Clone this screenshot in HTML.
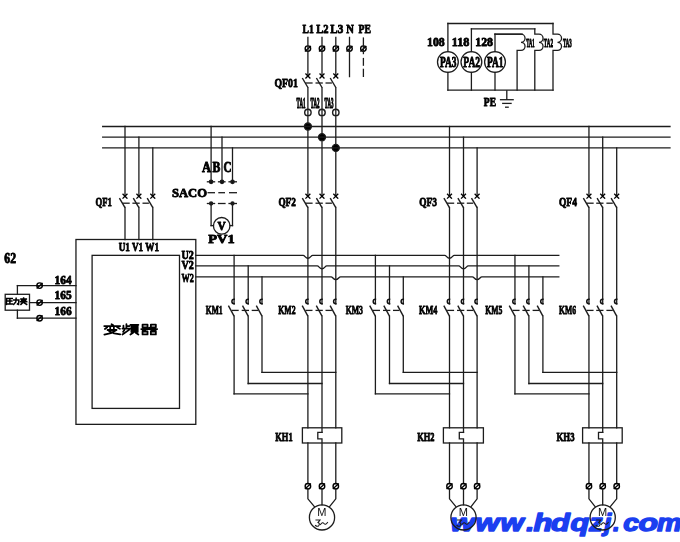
<!DOCTYPE html>
<html><head><meta charset="utf-8"><style>
html,body{margin:0;padding:0;background:#fff;width:680px;height:542px;overflow:hidden}
svg{display:block}
</style></head><body>
<svg width="680" height="542" viewBox="0 0 680 542">
<rect width="680" height="542" fill="#fff"/>
<g font-family="Liberation Sans" font-weight="bold" font-style="italic" font-size="24.0" fill="#1b3ff0" stroke="#1b3ff0" stroke-width="1.4" stroke-linejoin="round"><text transform="translate(450.39,531.2) scale(1.28,1)" x="0" y="0">w</text><text transform="translate(475.49,531.2) scale(1.28,1)" x="0" y="0">w</text><text transform="translate(500.41,531.2) scale(1.24,1)" x="0" y="0">w</text><text transform="translate(526.21,531.2) scale(1.2,1)" x="0" y="0">.</text><text transform="translate(533.50,531.2) scale(1.28,1)" x="0" y="0">h</text><text transform="translate(550.92,531.2) scale(1.28,1)" x="0" y="0">d</text><text transform="translate(570.45,531.2) scale(1.28,1)" x="0" y="0">q</text><text transform="translate(588.94,531.2) scale(1.12,1)" x="0" y="0">z</text><text transform="translate(604.34,531.2) scale(1.05,1)" x="0" y="0">j</text><text transform="translate(613.12,531.2) scale(1.0,1)" x="0" y="0">.</text><text transform="translate(623.30,531.2) scale(1.18,1)" x="0" y="0">c</text><text transform="translate(638.47,531.2) scale(1.33,1)" x="0" y="0">o</text><text transform="translate(657.07,531.2) scale(1.15,1)" x="0" y="0">m</text></g>
<g stroke="#1c1c1c" stroke-width="1.3" fill="none" stroke-linecap="square">
<circle cx="307.90" cy="48.60" r="2.75" stroke="#000" stroke-width="1.4"/>
<line x1="304.90" y1="51.40" x2="310.90" y2="45.90" stroke="#000" stroke-width="1.3" stroke-linecap="butt"/>
<circle cx="322.00" cy="48.60" r="2.75" stroke="#000" stroke-width="1.4"/>
<line x1="319.00" y1="51.40" x2="325.00" y2="45.90" stroke="#000" stroke-width="1.3" stroke-linecap="butt"/>
<circle cx="335.80" cy="48.60" r="2.75" stroke="#000" stroke-width="1.4"/>
<line x1="332.80" y1="51.40" x2="338.80" y2="45.90" stroke="#000" stroke-width="1.3" stroke-linecap="butt"/>
<circle cx="349.50" cy="48.60" r="2.75" stroke="#000" stroke-width="1.4"/>
<line x1="346.50" y1="51.40" x2="352.50" y2="45.90" stroke="#000" stroke-width="1.3" stroke-linecap="butt"/>
<circle cx="363.40" cy="48.60" r="2.75" stroke="#000" stroke-width="1.4"/>
<line x1="360.40" y1="51.40" x2="366.40" y2="45.90" stroke="#000" stroke-width="1.3" stroke-linecap="butt"/>
<line x1="307.90" y1="37.40" x2="307.90" y2="75.90"/>
<line x1="322.00" y1="37.40" x2="322.00" y2="75.90"/>
<line x1="335.80" y1="37.40" x2="335.80" y2="75.90"/>
<line x1="349.50" y1="37.40" x2="349.50" y2="76.60"/>
<line x1="363.40" y1="37.40" x2="363.40" y2="54.20" stroke-linecap="butt"/>
<line x1="363.40" y1="57.90" x2="363.40" y2="65.80" stroke-linecap="butt"/>
<line x1="363.40" y1="68.70" x2="363.40" y2="77.00" stroke-linecap="butt"/>
<path d="M305.90,74.00 L309.90,78.00 M305.90,78.00 L309.90,74.00" stroke="#000" stroke-width="1.3"/>
<line x1="302.30" y1="78.00" x2="307.90" y2="87.50" stroke-linecap="butt" stroke-width="1.4"/>
<path d="M320.00,74.00 L324.00,78.00 M320.00,78.00 L324.00,74.00" stroke="#000" stroke-width="1.3"/>
<line x1="316.40" y1="78.00" x2="322.00" y2="87.50" stroke-linecap="butt" stroke-width="1.4"/>
<path d="M333.80,74.00 L337.80,78.00 M333.80,78.00 L337.80,74.00" stroke="#000" stroke-width="1.3"/>
<line x1="330.20" y1="78.00" x2="335.80" y2="87.50" stroke-linecap="butt" stroke-width="1.4"/>
<line x1="305.30" y1="83.00" x2="312.60" y2="83.00" stroke-linecap="butt"/>
<line x1="315.50" y1="83.00" x2="322.80" y2="83.00" stroke-linecap="butt"/>
<line x1="325.50" y1="83.00" x2="331.90" y2="83.00" stroke-linecap="butt"/>
<line x1="307.90" y1="87.70" x2="307.90" y2="194.50"/>
<circle cx="307.90" cy="112.40" r="3.20" fill="none" stroke-width="1.4"/>
<circle cx="307.90" cy="126.50" r="3.50" fill="#000"/>
<line x1="322.00" y1="87.70" x2="322.00" y2="194.50"/>
<circle cx="322.00" cy="112.40" r="3.20" fill="none" stroke-width="1.4"/>
<circle cx="322.00" cy="137.20" r="3.50" fill="#000"/>
<line x1="335.80" y1="87.70" x2="335.80" y2="194.50"/>
<circle cx="335.80" cy="112.40" r="3.20" fill="none" stroke-width="1.4"/>
<circle cx="335.80" cy="147.90" r="3.50" fill="#000"/>
<line x1="102.70" y1="126.50" x2="670.00" y2="126.50"/>
<line x1="102.70" y1="137.20" x2="670.00" y2="137.20"/>
<line x1="102.70" y1="147.90" x2="670.00" y2="147.90"/>
<line x1="125.00" y1="126.50" x2="125.00" y2="194.50"/>
<line x1="125.00" y1="207.50" x2="125.00" y2="239.50"/>
<line x1="138.90" y1="137.20" x2="138.90" y2="194.50"/>
<line x1="138.90" y1="207.50" x2="138.90" y2="239.50"/>
<line x1="152.80" y1="147.90" x2="152.80" y2="194.50"/>
<line x1="152.80" y1="207.50" x2="152.80" y2="239.50"/>
<path d="M123.00,194.20 L127.00,198.20 M123.00,198.20 L127.00,194.20" stroke="#000" stroke-width="1.3"/>
<line x1="119.40" y1="198.20" x2="125.00" y2="207.70" stroke-linecap="butt" stroke-width="1.4"/>
<path d="M136.90,194.20 L140.90,198.20 M136.90,198.20 L140.90,194.20" stroke="#000" stroke-width="1.3"/>
<line x1="133.30" y1="198.20" x2="138.90" y2="207.70" stroke-linecap="butt" stroke-width="1.4"/>
<path d="M150.80,194.20 L154.80,198.20 M150.80,198.20 L154.80,194.20" stroke="#000" stroke-width="1.3"/>
<line x1="147.20" y1="198.20" x2="152.80" y2="207.70" stroke-linecap="butt" stroke-width="1.4"/>
<line x1="122.40" y1="203.20" x2="129.70" y2="203.20" stroke-linecap="butt"/>
<line x1="132.40" y1="203.20" x2="139.70" y2="203.20" stroke-linecap="butt"/>
<line x1="142.50" y1="203.20" x2="148.90" y2="203.20" stroke-linecap="butt"/>
<path d="M305.90,194.20 L309.90,198.20 M305.90,198.20 L309.90,194.20" stroke="#000" stroke-width="1.3"/>
<line x1="302.30" y1="198.20" x2="307.90" y2="207.70" stroke-linecap="butt" stroke-width="1.4"/>
<path d="M320.00,194.20 L324.00,198.20 M320.00,198.20 L324.00,194.20" stroke="#000" stroke-width="1.3"/>
<line x1="316.40" y1="198.20" x2="322.00" y2="207.70" stroke-linecap="butt" stroke-width="1.4"/>
<path d="M333.80,194.20 L337.80,198.20 M333.80,198.20 L337.80,194.20" stroke="#000" stroke-width="1.3"/>
<line x1="330.20" y1="198.20" x2="335.80" y2="207.70" stroke-linecap="butt" stroke-width="1.4"/>
<line x1="305.30" y1="203.20" x2="312.60" y2="203.20" stroke-linecap="butt"/>
<line x1="315.50" y1="203.20" x2="322.80" y2="203.20" stroke-linecap="butt"/>
<line x1="325.50" y1="203.20" x2="331.90" y2="203.20" stroke-linecap="butt"/>
<line x1="449.50" y1="126.50" x2="449.50" y2="194.50"/>
<line x1="463.50" y1="137.20" x2="463.50" y2="194.50"/>
<line x1="477.10" y1="147.90" x2="477.10" y2="194.50"/>
<path d="M447.50,194.20 L451.50,198.20 M447.50,198.20 L451.50,194.20" stroke="#000" stroke-width="1.3"/>
<line x1="443.90" y1="198.20" x2="449.50" y2="207.70" stroke-linecap="butt" stroke-width="1.4"/>
<path d="M461.50,194.20 L465.50,198.20 M461.50,198.20 L465.50,194.20" stroke="#000" stroke-width="1.3"/>
<line x1="457.90" y1="198.20" x2="463.50" y2="207.70" stroke-linecap="butt" stroke-width="1.4"/>
<path d="M475.10,194.20 L479.10,198.20 M475.10,198.20 L479.10,194.20" stroke="#000" stroke-width="1.3"/>
<line x1="471.50" y1="198.20" x2="477.10" y2="207.70" stroke-linecap="butt" stroke-width="1.4"/>
<line x1="446.90" y1="203.20" x2="454.20" y2="203.20" stroke-linecap="butt"/>
<line x1="457.00" y1="203.20" x2="464.30" y2="203.20" stroke-linecap="butt"/>
<line x1="466.80" y1="203.20" x2="473.20" y2="203.20" stroke-linecap="butt"/>
<line x1="588.95" y1="126.50" x2="588.95" y2="194.50"/>
<line x1="602.70" y1="137.20" x2="602.70" y2="194.50"/>
<line x1="616.70" y1="147.90" x2="616.70" y2="194.50"/>
<path d="M586.95,194.20 L590.95,198.20 M586.95,198.20 L590.95,194.20" stroke="#000" stroke-width="1.3"/>
<line x1="583.35" y1="198.20" x2="588.95" y2="207.70" stroke-linecap="butt" stroke-width="1.4"/>
<path d="M600.70,194.20 L604.70,198.20 M600.70,198.20 L604.70,194.20" stroke="#000" stroke-width="1.3"/>
<line x1="597.10" y1="198.20" x2="602.70" y2="207.70" stroke-linecap="butt" stroke-width="1.4"/>
<path d="M614.70,194.20 L618.70,198.20 M614.70,198.20 L618.70,194.20" stroke="#000" stroke-width="1.3"/>
<line x1="611.10" y1="198.20" x2="616.70" y2="207.70" stroke-linecap="butt" stroke-width="1.4"/>
<line x1="586.35" y1="203.20" x2="593.65" y2="203.20" stroke-linecap="butt"/>
<line x1="596.20" y1="203.20" x2="603.50" y2="203.20" stroke-linecap="butt"/>
<line x1="606.40" y1="203.20" x2="612.80" y2="203.20" stroke-linecap="butt"/>
<rect x="75.96" y="239.50" width="119.84" height="184.85" fill="none"/>
<rect x="92.10" y="255.35" width="87.40" height="153.05" fill="none"/>
<path d="M195.80,255.35 L303.10,255.35 C304.90,255.35 305.30,258.25 307.90,258.25 C310.50,258.25 310.90,255.35 312.70,255.35 L444.70,255.35 C446.50,255.35 446.90,258.25 449.50,258.25 C452.10,258.25 452.50,255.35 454.30,255.35 L558.80,255.35"/>
<path d="M195.80,265.90 L317.20,265.90 C319.00,265.90 319.40,268.80 322.00,268.80 C324.60,268.80 325.00,265.90 326.80,265.90 L458.70,265.90 C460.50,265.90 460.90,268.80 463.50,268.80 C466.10,268.80 466.50,265.90 468.30,265.90 L558.80,265.90"/>
<path d="M195.80,276.80 L331.00,276.80 C332.80,276.80 333.20,279.70 335.80,279.70 C338.40,279.70 338.80,276.80 340.60,276.80 L472.30,276.80 C474.10,276.80 474.50,279.70 477.10,279.70 C479.70,279.70 480.10,276.80 481.90,276.80 L558.80,276.80"/>
<line x1="234.10" y1="255.35" x2="234.10" y2="303.80"/>
<line x1="234.10" y1="316.20" x2="234.10" y2="393.80"/>
<line x1="234.10" y1="393.80" x2="307.90" y2="393.80"/>
<line x1="248.20" y1="265.90" x2="248.20" y2="303.80"/>
<line x1="248.20" y1="316.20" x2="248.20" y2="383.50"/>
<line x1="248.20" y1="383.50" x2="322.00" y2="383.50"/>
<line x1="262.00" y1="276.80" x2="262.00" y2="303.80"/>
<line x1="262.00" y1="316.20" x2="262.00" y2="372.40"/>
<line x1="262.00" y1="372.40" x2="335.80" y2="372.40"/>
<path d="M234.10,299.30 A2.2,2.2 0 0 0 234.10,303.70" stroke="#111" stroke-width="1.5"/>
<line x1="228.40" y1="305.60" x2="234.10" y2="316.20" stroke-linecap="butt" stroke-width="1.4"/>
<path d="M248.20,299.30 A2.2,2.2 0 0 0 248.20,303.70" stroke="#111" stroke-width="1.5"/>
<line x1="242.50" y1="305.60" x2="248.20" y2="316.20" stroke-linecap="butt" stroke-width="1.4"/>
<path d="M262.00,299.30 A2.2,2.2 0 0 0 262.00,303.70" stroke="#111" stroke-width="1.5"/>
<line x1="256.30" y1="305.60" x2="262.00" y2="316.20" stroke-linecap="butt" stroke-width="1.4"/>
<line x1="231.70" y1="310.40" x2="238.70" y2="310.40" stroke-linecap="butt"/>
<line x1="241.70" y1="310.40" x2="249.00" y2="310.40" stroke-linecap="butt"/>
<line x1="251.70" y1="310.40" x2="258.10" y2="310.40" stroke-linecap="butt"/>
<line x1="307.90" y1="207.50" x2="307.90" y2="303.80"/>
<line x1="322.00" y1="207.50" x2="322.00" y2="303.80"/>
<line x1="335.80" y1="207.50" x2="335.80" y2="303.80"/>
<path d="M307.90,299.30 A2.2,2.2 0 0 0 307.90,303.70" stroke="#111" stroke-width="1.5"/>
<line x1="302.20" y1="305.60" x2="307.90" y2="316.20" stroke-linecap="butt" stroke-width="1.4"/>
<path d="M322.00,299.30 A2.2,2.2 0 0 0 322.00,303.70" stroke="#111" stroke-width="1.5"/>
<line x1="316.30" y1="305.60" x2="322.00" y2="316.20" stroke-linecap="butt" stroke-width="1.4"/>
<path d="M335.80,299.30 A2.2,2.2 0 0 0 335.80,303.70" stroke="#111" stroke-width="1.5"/>
<line x1="330.10" y1="305.60" x2="335.80" y2="316.20" stroke-linecap="butt" stroke-width="1.4"/>
<line x1="305.50" y1="310.40" x2="312.50" y2="310.40" stroke-linecap="butt"/>
<line x1="315.50" y1="310.40" x2="322.80" y2="310.40" stroke-linecap="butt"/>
<line x1="325.50" y1="310.40" x2="331.90" y2="310.40" stroke-linecap="butt"/>
<line x1="307.90" y1="316.20" x2="307.90" y2="427.80"/>
<line x1="307.90" y1="443.00" x2="307.90" y2="483.60"/>
<line x1="322.00" y1="316.20" x2="322.00" y2="432.40"/>
<line x1="335.80" y1="316.20" x2="335.80" y2="427.80"/>
<line x1="335.80" y1="443.00" x2="335.80" y2="483.60"/>
<path d="M322.00,432.4 L317.80,432.4 L317.80,438.8 L322.00,438.8 L322.00,483.6"/>
<rect x="302.40" y="427.80" width="39.40" height="15.20" fill="none"/>
<circle cx="307.90" cy="486.20" r="2.75" stroke="#000" stroke-width="1.4"/>
<line x1="304.90" y1="489.00" x2="310.90" y2="483.50" stroke="#000" stroke-width="1.3" stroke-linecap="butt"/>
<circle cx="322.00" cy="486.20" r="2.75" stroke="#000" stroke-width="1.4"/>
<line x1="319.00" y1="489.00" x2="325.00" y2="483.50" stroke="#000" stroke-width="1.3" stroke-linecap="butt"/>
<circle cx="335.80" cy="486.20" r="2.75" stroke="#000" stroke-width="1.4"/>
<line x1="332.80" y1="489.00" x2="338.80" y2="483.50" stroke="#000" stroke-width="1.3" stroke-linecap="butt"/>
<circle cx="322.00" cy="517.40" r="12.60" fill="none" stroke-width="1.3"/>
<line x1="322.00" y1="488.80" x2="322.00" y2="504.80"/>
<path d="M307.90,488.8 L307.90,498.8 L314.40,506.6"/>
<path d="M335.80,488.8 L335.80,498.8 L329.60,506.6"/>
<path d="M316.00,520 L320.00,520 L318.00,522.6 Q320.50,523.5 318.50,526 Q317.00,526.8 315.50,525.5" stroke-width="1.1"/>
<path d="M320.50,524.5 Q322.50,521.5 324.00,523.5 Q325.50,525.5 327.50,522.5" stroke-width="1.1"/>
<line x1="375.40" y1="255.35" x2="375.40" y2="303.80"/>
<line x1="375.40" y1="316.20" x2="375.40" y2="393.80"/>
<line x1="375.40" y1="393.80" x2="449.50" y2="393.80"/>
<line x1="389.50" y1="265.90" x2="389.50" y2="303.80"/>
<line x1="389.50" y1="316.20" x2="389.50" y2="383.50"/>
<line x1="389.50" y1="383.50" x2="463.50" y2="383.50"/>
<line x1="403.30" y1="276.80" x2="403.30" y2="303.80"/>
<line x1="403.30" y1="316.20" x2="403.30" y2="372.40"/>
<line x1="403.30" y1="372.40" x2="477.10" y2="372.40"/>
<path d="M375.40,299.30 A2.2,2.2 0 0 0 375.40,303.70" stroke="#111" stroke-width="1.5"/>
<line x1="369.70" y1="305.60" x2="375.40" y2="316.20" stroke-linecap="butt" stroke-width="1.4"/>
<path d="M389.50,299.30 A2.2,2.2 0 0 0 389.50,303.70" stroke="#111" stroke-width="1.5"/>
<line x1="383.80" y1="305.60" x2="389.50" y2="316.20" stroke-linecap="butt" stroke-width="1.4"/>
<path d="M403.30,299.30 A2.2,2.2 0 0 0 403.30,303.70" stroke="#111" stroke-width="1.5"/>
<line x1="397.60" y1="305.60" x2="403.30" y2="316.20" stroke-linecap="butt" stroke-width="1.4"/>
<line x1="373.00" y1="310.40" x2="380.00" y2="310.40" stroke-linecap="butt"/>
<line x1="383.00" y1="310.40" x2="390.30" y2="310.40" stroke-linecap="butt"/>
<line x1="393.00" y1="310.40" x2="399.40" y2="310.40" stroke-linecap="butt"/>
<line x1="449.50" y1="207.50" x2="449.50" y2="303.80"/>
<line x1="463.50" y1="207.50" x2="463.50" y2="303.80"/>
<line x1="477.10" y1="207.50" x2="477.10" y2="303.80"/>
<path d="M449.50,299.30 A2.2,2.2 0 0 0 449.50,303.70" stroke="#111" stroke-width="1.5"/>
<line x1="443.80" y1="305.60" x2="449.50" y2="316.20" stroke-linecap="butt" stroke-width="1.4"/>
<path d="M463.50,299.30 A2.2,2.2 0 0 0 463.50,303.70" stroke="#111" stroke-width="1.5"/>
<line x1="457.80" y1="305.60" x2="463.50" y2="316.20" stroke-linecap="butt" stroke-width="1.4"/>
<path d="M477.10,299.30 A2.2,2.2 0 0 0 477.10,303.70" stroke="#111" stroke-width="1.5"/>
<line x1="471.40" y1="305.60" x2="477.10" y2="316.20" stroke-linecap="butt" stroke-width="1.4"/>
<line x1="447.10" y1="310.40" x2="454.10" y2="310.40" stroke-linecap="butt"/>
<line x1="457.00" y1="310.40" x2="464.30" y2="310.40" stroke-linecap="butt"/>
<line x1="466.80" y1="310.40" x2="473.20" y2="310.40" stroke-linecap="butt"/>
<line x1="449.50" y1="316.20" x2="449.50" y2="427.80"/>
<line x1="449.50" y1="443.00" x2="449.50" y2="483.60"/>
<line x1="463.50" y1="316.20" x2="463.50" y2="432.40"/>
<line x1="477.10" y1="316.20" x2="477.10" y2="427.80"/>
<line x1="477.10" y1="443.00" x2="477.10" y2="483.60"/>
<path d="M463.50,432.4 L459.30,432.4 L459.30,438.8 L463.50,438.8 L463.50,483.6"/>
<rect x="443.40" y="427.80" width="40.00" height="15.20" fill="none"/>
<circle cx="449.50" cy="486.20" r="2.75" stroke="#000" stroke-width="1.4"/>
<line x1="446.50" y1="489.00" x2="452.50" y2="483.50" stroke="#000" stroke-width="1.3" stroke-linecap="butt"/>
<circle cx="463.50" cy="486.20" r="2.75" stroke="#000" stroke-width="1.4"/>
<line x1="460.50" y1="489.00" x2="466.50" y2="483.50" stroke="#000" stroke-width="1.3" stroke-linecap="butt"/>
<circle cx="477.10" cy="486.20" r="2.75" stroke="#000" stroke-width="1.4"/>
<line x1="474.10" y1="489.00" x2="480.10" y2="483.50" stroke="#000" stroke-width="1.3" stroke-linecap="butt"/>
<circle cx="463.50" cy="517.40" r="12.60" fill="none" stroke-width="1.3"/>
<line x1="463.50" y1="488.80" x2="463.50" y2="504.80"/>
<path d="M449.50,488.8 L449.50,498.8 L455.90,506.6"/>
<path d="M477.10,488.8 L477.10,498.8 L471.10,506.6"/>
<path d="M457.50,520 L461.50,520 L459.50,522.6 Q462.00,523.5 460.00,526 Q458.50,526.8 457.00,525.5" stroke-width="1.1"/>
<path d="M462.00,524.5 Q464.00,521.5 465.50,523.5 Q467.00,525.5 469.00,522.5" stroke-width="1.1"/>
<line x1="514.95" y1="255.35" x2="514.95" y2="303.80"/>
<line x1="514.95" y1="316.20" x2="514.95" y2="393.80"/>
<line x1="514.95" y1="393.80" x2="588.95" y2="393.80"/>
<line x1="528.90" y1="265.90" x2="528.90" y2="303.80"/>
<line x1="528.90" y1="316.20" x2="528.90" y2="383.50"/>
<line x1="528.90" y1="383.50" x2="602.70" y2="383.50"/>
<line x1="542.90" y1="276.80" x2="542.90" y2="303.80"/>
<line x1="542.90" y1="316.20" x2="542.90" y2="372.40"/>
<line x1="542.90" y1="372.40" x2="616.70" y2="372.40"/>
<path d="M514.95,299.30 A2.2,2.2 0 0 0 514.95,303.70" stroke="#111" stroke-width="1.5"/>
<line x1="509.25" y1="305.60" x2="514.95" y2="316.20" stroke-linecap="butt" stroke-width="1.4"/>
<path d="M528.90,299.30 A2.2,2.2 0 0 0 528.90,303.70" stroke="#111" stroke-width="1.5"/>
<line x1="523.20" y1="305.60" x2="528.90" y2="316.20" stroke-linecap="butt" stroke-width="1.4"/>
<path d="M542.90,299.30 A2.2,2.2 0 0 0 542.90,303.70" stroke="#111" stroke-width="1.5"/>
<line x1="537.20" y1="305.60" x2="542.90" y2="316.20" stroke-linecap="butt" stroke-width="1.4"/>
<line x1="512.55" y1="310.40" x2="519.55" y2="310.40" stroke-linecap="butt"/>
<line x1="522.40" y1="310.40" x2="529.70" y2="310.40" stroke-linecap="butt"/>
<line x1="532.60" y1="310.40" x2="539.00" y2="310.40" stroke-linecap="butt"/>
<line x1="588.95" y1="207.50" x2="588.95" y2="303.80"/>
<line x1="602.70" y1="207.50" x2="602.70" y2="303.80"/>
<line x1="616.70" y1="207.50" x2="616.70" y2="303.80"/>
<path d="M588.95,299.30 A2.2,2.2 0 0 0 588.95,303.70" stroke="#111" stroke-width="1.5"/>
<line x1="583.25" y1="305.60" x2="588.95" y2="316.20" stroke-linecap="butt" stroke-width="1.4"/>
<path d="M602.70,299.30 A2.2,2.2 0 0 0 602.70,303.70" stroke="#111" stroke-width="1.5"/>
<line x1="597.00" y1="305.60" x2="602.70" y2="316.20" stroke-linecap="butt" stroke-width="1.4"/>
<path d="M616.70,299.30 A2.2,2.2 0 0 0 616.70,303.70" stroke="#111" stroke-width="1.5"/>
<line x1="611.00" y1="305.60" x2="616.70" y2="316.20" stroke-linecap="butt" stroke-width="1.4"/>
<line x1="586.55" y1="310.40" x2="593.55" y2="310.40" stroke-linecap="butt"/>
<line x1="596.20" y1="310.40" x2="603.50" y2="310.40" stroke-linecap="butt"/>
<line x1="606.40" y1="310.40" x2="612.80" y2="310.40" stroke-linecap="butt"/>
<line x1="588.95" y1="316.20" x2="588.95" y2="427.80"/>
<line x1="588.95" y1="443.00" x2="588.95" y2="483.60"/>
<line x1="602.70" y1="316.20" x2="602.70" y2="432.40"/>
<line x1="616.70" y1="316.20" x2="616.70" y2="427.80"/>
<line x1="616.70" y1="443.00" x2="616.70" y2="483.60"/>
<path d="M602.70,432.4 L598.50,432.4 L598.50,438.8 L602.70,438.8 L602.70,483.6"/>
<rect x="582.60" y="427.80" width="39.60" height="15.20" fill="none"/>
<circle cx="588.95" cy="486.20" r="2.75" stroke="#000" stroke-width="1.4"/>
<line x1="585.95" y1="489.00" x2="591.95" y2="483.50" stroke="#000" stroke-width="1.3" stroke-linecap="butt"/>
<circle cx="602.70" cy="486.20" r="2.75" stroke="#000" stroke-width="1.4"/>
<line x1="599.70" y1="489.00" x2="605.70" y2="483.50" stroke="#000" stroke-width="1.3" stroke-linecap="butt"/>
<circle cx="616.70" cy="486.20" r="2.75" stroke="#000" stroke-width="1.4"/>
<line x1="613.70" y1="489.00" x2="619.70" y2="483.50" stroke="#000" stroke-width="1.3" stroke-linecap="butt"/>
<circle cx="602.70" cy="517.40" r="12.60" fill="none" stroke-width="1.3"/>
<line x1="602.70" y1="488.80" x2="602.70" y2="504.80"/>
<path d="M588.95,488.8 L588.95,498.8 L595.10,506.6"/>
<path d="M616.70,488.8 L616.70,498.8 L610.30,506.6"/>
<path d="M596.70,520 L600.70,520 L598.70,522.6 Q601.20,523.5 599.20,526 Q597.70,526.8 596.20,525.5" stroke-width="1.1"/>
<path d="M601.20,524.5 Q603.20,521.5 604.70,523.5 Q606.20,525.5 608.20,522.5" stroke-width="1.1"/>
<line x1="17.40" y1="285.60" x2="75.96" y2="285.60"/>
<line x1="29.50" y1="302.60" x2="75.96" y2="302.60"/>
<line x1="17.40" y1="318.20" x2="75.96" y2="318.20"/>
<line x1="17.40" y1="285.60" x2="17.40" y2="294.30"/>
<line x1="17.40" y1="310.20" x2="17.40" y2="318.20"/>
<rect x="5.20" y="294.30" width="24.30" height="15.90" fill="none"/>
<circle cx="39.60" cy="285.60" r="2.75" stroke="#000" stroke-width="1.4"/>
<line x1="36.60" y1="288.40" x2="42.60" y2="282.90" stroke="#000" stroke-width="1.3" stroke-linecap="butt"/>
<circle cx="39.60" cy="302.60" r="2.75" stroke="#000" stroke-width="1.4"/>
<line x1="36.60" y1="305.40" x2="42.60" y2="299.90" stroke="#000" stroke-width="1.3" stroke-linecap="butt"/>
<circle cx="39.60" cy="318.20" r="2.75" stroke="#000" stroke-width="1.4"/>
<line x1="36.60" y1="321.00" x2="42.60" y2="315.50" stroke="#000" stroke-width="1.3" stroke-linecap="butt"/>
<line x1="211.10" y1="126.50" x2="211.10" y2="181.80"/>
<circle cx="211.10" cy="181.80" r="1.70" fill="#000"/>
<line x1="222.00" y1="137.20" x2="222.00" y2="181.80"/>
<circle cx="222.00" cy="181.80" r="1.70" fill="#000"/>
<line x1="232.50" y1="147.90" x2="232.50" y2="181.80"/>
<circle cx="232.50" cy="181.80" r="1.70" fill="#000"/>
<circle cx="211.10" cy="203.50" r="1.50" fill="#000"/>
<circle cx="232.50" cy="203.50" r="1.50" fill="#000"/>
<line x1="206.80" y1="181.80" x2="215.20" y2="181.80" stroke-linecap="butt"/>
<line x1="217.90" y1="181.80" x2="225.60" y2="181.80" stroke-linecap="butt"/>
<line x1="228.40" y1="181.80" x2="237.00" y2="181.80" stroke-linecap="butt"/>
<line x1="206.80" y1="203.50" x2="215.20" y2="203.50" stroke-linecap="butt"/>
<line x1="217.90" y1="203.50" x2="225.60" y2="203.50" stroke-linecap="butt"/>
<line x1="228.40" y1="203.50" x2="237.00" y2="203.50" stroke-linecap="butt"/>
<line x1="207.50" y1="192.70" x2="215.00" y2="192.70" stroke-linecap="butt"/>
<line x1="218.30" y1="192.70" x2="225.00" y2="192.70" stroke-linecap="butt"/>
<line x1="229.00" y1="192.70" x2="237.00" y2="192.70" stroke-linecap="butt"/>
<line x1="211.10" y1="203.50" x2="211.10" y2="225.60"/>
<line x1="211.10" y1="225.60" x2="213.50" y2="225.60"/>
<line x1="232.50" y1="203.50" x2="232.50" y2="225.60"/>
<line x1="232.50" y1="225.60" x2="230.10" y2="225.60"/>
<circle cx="221.70" cy="225.80" r="8.30" fill="none" stroke-width="1.3"/>
<line x1="447.90" y1="23.50" x2="553.00" y2="23.50"/>
<line x1="471.40" y1="28.90" x2="534.80" y2="28.90"/>
<line x1="495.00" y1="34.20" x2="522.10" y2="34.20"/>
<line x1="447.90" y1="90.20" x2="553.00" y2="90.20"/>
<line x1="447.90" y1="23.50" x2="447.90" y2="51.60"/>
<circle cx="447.90" cy="62.00" r="10.40" fill="none" stroke-width="1.3"/>
<line x1="447.90" y1="72.40" x2="447.90" y2="90.20"/>
<line x1="471.40" y1="28.90" x2="471.40" y2="51.60"/>
<circle cx="471.40" cy="62.00" r="10.40" fill="none" stroke-width="1.3"/>
<line x1="471.40" y1="72.40" x2="471.40" y2="90.20"/>
<line x1="495.00" y1="34.20" x2="495.00" y2="51.60"/>
<circle cx="495.00" cy="62.00" r="10.40" fill="none" stroke-width="1.3"/>
<line x1="495.00" y1="72.40" x2="495.00" y2="90.20"/>
<path d="M495.0,34.2 L521.0,34.2 A4.05,4.05 0 0 1 521.00,42.30 A4.05,4.05 0 0 1 521.00,50.40 L517.1,50.4 L517.1,90.2"/>
<path d="M534.8,28.9 L534.8,34.2 L539.0,34.2 A4.05,4.05 0 0 1 539.00,42.30 A4.05,4.05 0 0 1 539.00,50.40 L534.8,50.4 L534.8,90.2"/>
<path d="M553.0,23.5 L553.0,34.2 L557.5,34.2 A4.05,4.05 0 0 1 557.50,42.30 A4.05,4.05 0 0 1 557.50,50.40 L553.0,50.4 L553.0,90.2"/>
<line x1="506.80" y1="90.20" x2="506.80" y2="99.70" stroke-linecap="butt"/>
<line x1="499.90" y1="99.70" x2="513.80" y2="99.70" stroke-linecap="butt"/>
<line x1="502.10" y1="103.40" x2="511.70" y2="103.40" stroke-linecap="butt"/>
<line x1="505.00" y1="107.20" x2="508.80" y2="107.20" stroke-linecap="butt"/>
<path d="M111.54,324.20 L113.20,325.24 M104.23,326.07 L120.17,326.07 M110.21,326.07 L110.21,329.19 M113.86,326.07 L113.86,329.19 M107.22,327.32 L104.90,328.98 M117.18,327.32 L119.84,328.78 M107.55,330.02 L116.52,330.02 L110.87,333.14 L104.40,334.60 M109.21,331.27 L114.19,333.35 L120.17,334.39 M126.42,324.20 L126.42,328.57 M126.42,326.07 L129.40,326.07 M123.43,325.66 L123.43,328.57 M122.43,328.57 L129.74,328.57 M124.42,329.92 L123.10,331.69 M129.40,329.61 L122.43,334.60 M130.40,324.82 L138.37,324.82 M134.05,324.82 L133.06,326.49 M131.40,326.49 L137.70,326.49 L137.70,331.90 L131.40,331.90 Z M131.40,328.36 L137.70,328.36 M131.40,330.13 L137.70,330.13 M133.06,332.73 L130.40,334.60 M135.71,332.73 L138.37,334.60 M142.56,324.62 L147.54,324.62 L147.54,327.32 L142.56,327.32 Z M150.86,324.62 L155.84,324.62 L155.84,327.32 L150.86,327.32 Z M141.23,329.09 L157.17,329.09 M149.53,327.74 L142.56,330.86 M149.53,329.09 L155.84,330.86 M152.85,327.74 L154.18,328.46 M142.56,331.48 L147.54,331.48 L147.54,334.39 L142.56,334.39 Z M150.86,331.48 L155.84,331.48 L155.84,334.39 L150.86,334.39 Z" stroke="#000" stroke-width="1.8" fill="none" stroke-linejoin="round" stroke-linecap="round"/>
<path d="M6.4799999999999995,298.44399999999996 L12.26,298.44399999999996 M6.616,298.44399999999996 L6.343999999999999,304.35999999999996 M7.84,300.96 L11.92,300.96 M9.879999999999999,299.26 L9.879999999999999,304.02 M7.5,304.02 L12.26,304.02 M13.756,299.94 L18.856,299.94 L18.516000000000002,304.35999999999996 L17.496000000000002,304.02 M16.136,298.23999999999995 L15.796000000000001,301.97999999999996 L13.756,304.35999999999996 M20.896,298.91999999999996 L26.336000000000002,298.91999999999996 M21.576,300.28 L25.656000000000002,300.28 M20.556,301.64 L26.676000000000002,301.64 M23.616,298.036 L23.616,301.64 M23.616,301.64 L20.896,304.35999999999996 M23.276,302.32 L26.676000000000002,304.35999999999996" stroke="#000" stroke-width="1.5" fill="none"/>
</g>
<g stroke="#000" stroke-width="0.85" stroke-linejoin="round" style="will-change:transform">
<text x="317.20" y="516.2" font-family="Liberation Sans" font-size="10.5" fill="#111" stroke="none" textLength="9.2" lengthAdjust="spacingAndGlyphs">M</text>
<text x="458.70" y="516.2" font-family="Liberation Sans" font-size="10.5" fill="#111" stroke="none" textLength="9.2" lengthAdjust="spacingAndGlyphs">M</text>
<text x="597.90" y="516.2" font-family="Liberation Sans" font-size="10.5" fill="#111" stroke="none" textLength="9.2" lengthAdjust="spacingAndGlyphs">M</text>
<text x="302.60" y="32.60" font-family="Liberation Serif" font-weight="bold" font-size="12.52" textLength="11.20" lengthAdjust="spacingAndGlyphs" fill="#000" >L1</text>
<text x="316.20" y="32.60" font-family="Liberation Serif" font-weight="bold" font-size="12.52" textLength="12.30" lengthAdjust="spacingAndGlyphs" fill="#000" >L2</text>
<text x="330.30" y="32.60" font-family="Liberation Serif" font-weight="bold" font-size="12.52" textLength="12.90" lengthAdjust="spacingAndGlyphs" fill="#000" >L3</text>
<text x="346.20" y="32.60" font-family="Liberation Serif" font-weight="bold" font-size="12.52" textLength="7.60" lengthAdjust="spacingAndGlyphs" fill="#000" >N</text>
<text x="358.50" y="32.60" font-family="Liberation Serif" font-weight="bold" font-size="12.52" textLength="12.40" lengthAdjust="spacingAndGlyphs" fill="#000" >PE</text>
<text x="274.40" y="86.60" font-family="Liberation Serif" font-weight="bold" font-size="13.13" textLength="23.40" lengthAdjust="spacingAndGlyphs" fill="#000" >QF01</text>
<text x="296.60" y="107.60" font-family="Liberation Serif" font-weight="bold" font-size="13.89" textLength="9.00" lengthAdjust="spacingAndGlyphs" fill="#000"  stroke-width="1.2">TA1</text>
<text x="310.60" y="107.60" font-family="Liberation Serif" font-weight="bold" font-size="13.89" textLength="9.00" lengthAdjust="spacingAndGlyphs" fill="#000"  stroke-width="1.2">TA2</text>
<text x="324.60" y="107.60" font-family="Liberation Serif" font-weight="bold" font-size="13.89" textLength="9.00" lengthAdjust="spacingAndGlyphs" fill="#000"  stroke-width="1.2">TA3</text>
<text x="427.00" y="45.80" font-family="Liberation Serif" font-weight="bold" font-size="13.13" textLength="17.70" lengthAdjust="spacingAndGlyphs" fill="#000" >108</text>
<text x="451.80" y="45.80" font-family="Liberation Serif" font-weight="bold" font-size="13.13" textLength="17.60" lengthAdjust="spacingAndGlyphs" fill="#000" >118</text>
<text x="475.30" y="45.80" font-family="Liberation Serif" font-weight="bold" font-size="13.13" textLength="17.70" lengthAdjust="spacingAndGlyphs" fill="#000" >128</text>
<text x="440.00" y="66.50" font-family="Liberation Serif" font-weight="bold" font-size="13.74" textLength="16.50" lengthAdjust="spacingAndGlyphs" fill="#000" >PA3</text>
<text x="463.30" y="66.50" font-family="Liberation Serif" font-weight="bold" font-size="13.74" textLength="16.70" lengthAdjust="spacingAndGlyphs" fill="#000" >PA2</text>
<text x="487.00" y="66.50" font-family="Liberation Serif" font-weight="bold" font-size="13.74" textLength="16.50" lengthAdjust="spacingAndGlyphs" fill="#000" >PA1</text>
<text x="526.20" y="46.70" font-family="Liberation Serif" font-weight="bold" font-size="12.98" textLength="8.40" lengthAdjust="spacingAndGlyphs" fill="#000"  stroke-width="1.1">TA1</text>
<text x="543.80" y="46.70" font-family="Liberation Serif" font-weight="bold" font-size="12.98" textLength="9.20" lengthAdjust="spacingAndGlyphs" fill="#000"  stroke-width="1.1">TA2</text>
<text x="563.00" y="46.70" font-family="Liberation Serif" font-weight="bold" font-size="12.98" textLength="8.80" lengthAdjust="spacingAndGlyphs" fill="#000"  stroke-width="1.1">TA3</text>
<text x="483.80" y="106.40" font-family="Liberation Serif" font-weight="bold" font-size="12.82" textLength="12.20" lengthAdjust="spacingAndGlyphs" fill="#000" >PE</text>
<text x="95.40" y="206.20" font-family="Liberation Serif" font-weight="bold" font-size="12.67" textLength="16.40" lengthAdjust="spacingAndGlyphs" fill="#000" >QF1</text>
<text x="278.40" y="206.30" font-family="Liberation Serif" font-weight="bold" font-size="12.52" textLength="17.50" lengthAdjust="spacingAndGlyphs" fill="#000" >QF2</text>
<text x="419.30" y="206.30" font-family="Liberation Serif" font-weight="bold" font-size="12.82" textLength="17.70" lengthAdjust="spacingAndGlyphs" fill="#000" >QF3</text>
<text x="559.00" y="206.30" font-family="Liberation Serif" font-weight="bold" font-size="12.82" textLength="17.90" lengthAdjust="spacingAndGlyphs" fill="#000" >QF4</text>
<text x="202.00" y="171.80" font-family="Liberation Serif" font-weight="bold" font-size="13.74" textLength="9.00" lengthAdjust="spacingAndGlyphs" fill="#000" >A</text>
<text x="212.60" y="171.80" font-family="Liberation Serif" font-weight="bold" font-size="13.74" textLength="7.80" lengthAdjust="spacingAndGlyphs" fill="#000" >B</text>
<text x="223.60" y="171.80" font-family="Liberation Serif" font-weight="bold" font-size="13.74" textLength="8.00" lengthAdjust="spacingAndGlyphs" fill="#000" >C</text>
<text x="172.00" y="196.80" font-family="Liberation Serif" font-weight="bold" font-size="13.44" textLength="35.00" lengthAdjust="spacingAndGlyphs" fill="#000" >SACO</text>
<text x="208.30" y="243.40" font-family="Liberation Serif" font-weight="bold" font-size="12.21" textLength="26.30" lengthAdjust="spacingAndGlyphs" fill="#000" >PV1</text>
<text x="217.60" y="229.90" font-family="Liberation Serif" font-weight="bold" font-size="12.98" textLength="8.20" lengthAdjust="spacingAndGlyphs" fill="#000" >V</text>
<text x="118.70" y="251.40" font-family="Liberation Serif" font-weight="bold" font-size="12.82" textLength="40.30" lengthAdjust="spacingAndGlyphs" fill="#000" >U1 V1 W1</text>
<text x="181.50" y="258.80" font-family="Liberation Serif" font-weight="bold" font-size="12.52" textLength="12.30" lengthAdjust="spacingAndGlyphs" fill="#000" >U2</text>
<text x="181.50" y="269.40" font-family="Liberation Serif" font-weight="bold" font-size="12.52" textLength="12.30" lengthAdjust="spacingAndGlyphs" fill="#000" >V2</text>
<text x="181.50" y="281.80" font-family="Liberation Serif" font-weight="bold" font-size="13.44" textLength="12.30" lengthAdjust="spacingAndGlyphs" fill="#000" >W2</text>
<text x="4.30" y="262.90" font-family="Liberation Serif" font-weight="bold" font-size="13.59" textLength="11.70" lengthAdjust="spacingAndGlyphs" fill="#000" >62</text>
<text x="54.50" y="284.00" font-family="Liberation Serif" font-weight="bold" font-size="12.82" textLength="17.10" lengthAdjust="spacingAndGlyphs" fill="#000" >164</text>
<text x="54.50" y="298.50" font-family="Liberation Serif" font-weight="bold" font-size="13.28" textLength="17.10" lengthAdjust="spacingAndGlyphs" fill="#000" >165</text>
<text x="54.50" y="315.30" font-family="Liberation Serif" font-weight="bold" font-size="13.28" textLength="17.10" lengthAdjust="spacingAndGlyphs" fill="#000" >166</text>
<text x="205.80" y="314.30" font-family="Liberation Serif" font-weight="bold" font-size="12.82" textLength="16.80" lengthAdjust="spacingAndGlyphs" fill="#000" >KM1</text>
<text x="278.20" y="314.30" font-family="Liberation Serif" font-weight="bold" font-size="13.13" textLength="17.40" lengthAdjust="spacingAndGlyphs" fill="#000" >KM2</text>
<text x="345.70" y="314.30" font-family="Liberation Serif" font-weight="bold" font-size="13.28" textLength="17.20" lengthAdjust="spacingAndGlyphs" fill="#000" >KM3</text>
<text x="419.10" y="314.30" font-family="Liberation Serif" font-weight="bold" font-size="13.13" textLength="18.30" lengthAdjust="spacingAndGlyphs" fill="#000" >KM4</text>
<text x="485.30" y="314.30" font-family="Liberation Serif" font-weight="bold" font-size="13.28" textLength="17.20" lengthAdjust="spacingAndGlyphs" fill="#000" >KM5</text>
<text x="559.00" y="314.30" font-family="Liberation Serif" font-weight="bold" font-size="13.13" textLength="17.00" lengthAdjust="spacingAndGlyphs" fill="#000" >KM6</text>
<text x="275.30" y="440.60" font-family="Liberation Serif" font-weight="bold" font-size="12.98" textLength="17.30" lengthAdjust="spacingAndGlyphs" fill="#000" >KH1</text>
<text x="417.20" y="440.60" font-family="Liberation Serif" font-weight="bold" font-size="12.98" textLength="17.30" lengthAdjust="spacingAndGlyphs" fill="#000" >KH2</text>
<text x="556.60" y="440.60" font-family="Liberation Serif" font-weight="bold" font-size="12.98" textLength="17.90" lengthAdjust="spacingAndGlyphs" fill="#000" >KH3</text>
</g>
</svg>
</body></html>
